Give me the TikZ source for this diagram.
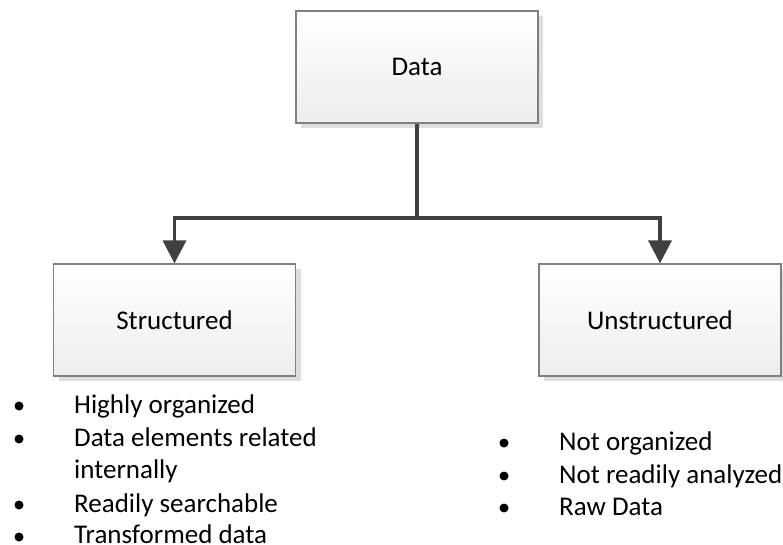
\documentclass[tikz,border=0pt]{standalone}
\usepackage{fontspec}
\setmainfont{Carlito}
\usetikzlibrary{shadows,arrows.meta}
\begin{document}
\begin{tikzpicture}[x=1pt,y=-1pt,
  box/.style={draw=black!50, line width=1.2pt, top color=white, bottom color=black!7,
    minimum width=242pt, minimum height=112pt, inner sep=0pt,
    font=\fontsize{27}{33}\selectfont,
    general shadow={fill=black!13, shadow xshift=5pt, shadow yshift=-5pt}},
  conn/.style={draw=black!75, line width=3.5pt, line join=miter},
  arr/.style={conn, -{Triangle[length=23pt,width=23pt]}},
  txt/.style={anchor=base west, inner sep=0pt, font=\fontsize{27}{33}\selectfont},
  dot/.style={circle, fill=black, inner sep=0pt, minimum size=9pt}
]
\useasboundingbox (0,0) rectangle (783,545);
\node[box] (data) at (417,67) {Data};
\node[box] (struct) at (174.5,320) {Structured};
\node[box] (unstruct) at (660,320) {Unstructured};
\coordinate (hub) at (417,218);
\draw[conn] (data.south) -- (hub);
\draw[arr] (hub) -| (struct.north);
\draw[arr] (hub) -| (unstruct.north);
% left list
\node[dot] (b1) at (19,406) {};
\node[txt] (t1) at (74,413) {Highly organized};
\node[dot] (b2) at (19,439) {};
\node[txt] (t2) at (74,446) {Data elements related};
\node[txt] (t2b) at (74,478) {internally};
\node[dot] (b3) at (19,505) {};
\node[txt] (t3) at (74,512) {Readily searchable};
\node[dot] (b4) at (19,537) {};
\node[txt] (t4) at (74,543) {Transformed data};
% right list
\node[dot] (r1) at (504,443) {};
\node[txt] (u1) at (559,450) {Not organized};
\node[dot] (r2) at (504,476) {};
\node[txt] (u2) at (559,483) {Not readily analyzed};
\node[dot] (r3) at (504,508) {};
\node[txt] (u3) at (559,515) {Raw Data};
\end{tikzpicture}
\end{document}
